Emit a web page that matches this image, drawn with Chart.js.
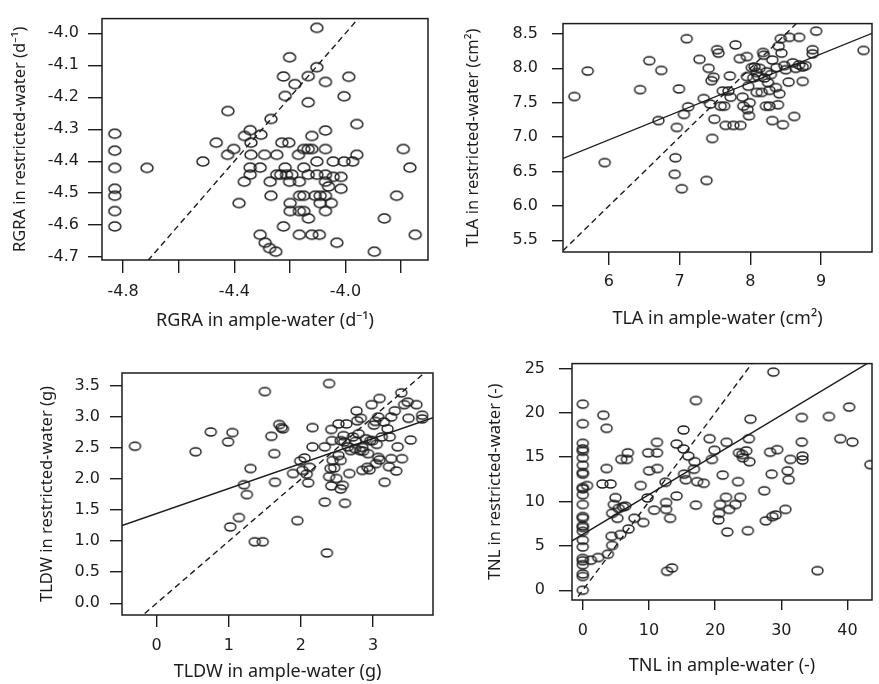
<!DOCTYPE html>
<html><head><meta charset="utf-8">
<script src="https://cdn.jsdelivr.net/npm/chart.js@4/dist/chart.umd.min.js"></script>
<style>
html,body{margin:0;padding:0;background:#fff;overflow:hidden;width:879px;height:684px;}
.p{position:absolute;}
canvas{display:block;}
</style></head><body>
<div class="p" style="left:0;top:0"><canvas id="c1" width="440" height="340"></canvas></div>
<div class="p" style="left:440px;top:0"><canvas id="c2" width="439" height="340"></canvas></div>
<div class="p" style="left:0;top:340px"><canvas id="c3" width="440" height="344"></canvas></div>
<div class="p" style="left:440px;top:340px"><canvas id="c4" width="439" height="344"></canvas></div>
<script>
// ---------- DATA ----------
const rgraAmple = [-4.83,-4.83,-4.83,-4.83,-4.83,-4.83,-4.83,-4.714,-4.513,-4.465,-4.423,-4.424,-4.402,-4.383,-4.364,-4.363,-4.343,-4.340,-4.340,-4.343,-4.343,-4.304,-4.307,-4.291,-4.307,-4.289,-4.273,-4.251,-4.268,-4.271,-4.268,-4.247,-4.247,-4.223,-4.217,-4.229,-4.204,-4.217,-4.233,-4.212,-4.193,-4.223,-4.201,-4.201,-4.199,-4.199,-4.182,-4.169,-4.166,-4.165,-4.166,-4.166,-4.150,-4.150,-4.150,-4.150,-4.134,-4.134,-4.134,-4.134,-4.133,-4.121,-4.121,-4.121,-4.103,-4.103,-4.103,-4.103,-4.109,-4.094,-4.091,-4.091,-4.072,-4.072,-4.072,-4.072,-4.072,-4.072,-4.072,-4.061,-4.051,-4.044,-4.044,-4.031,-4.016,-4.016,-4.005,-4.005,-3.988,-3.974,-3.959,-3.959,-3.896,-3.860,-3.816,-3.792,-3.768,-3.749];
const rgraRestricted = [-4.314,-4.367,-4.421,-4.486,-4.508,-4.556,-4.604,-4.421,-4.401,-4.342,-4.243,-4.380,-4.362,-4.531,-4.464,-4.321,-4.303,-4.342,-4.380,-4.420,-4.442,-4.317,-4.420,-4.380,-4.630,-4.655,-4.672,-4.683,-4.268,-4.464,-4.508,-4.380,-4.442,-4.135,-4.196,-4.342,-4.342,-4.420,-4.442,-4.442,-4.442,-4.604,-4.075,-4.464,-4.531,-4.556,-4.159,-4.380,-4.464,-4.508,-4.556,-4.630,-4.362,-4.420,-4.508,-4.556,-4.134,-4.216,-4.362,-4.442,-4.579,-4.321,-4.362,-4.630,-3.983,-4.106,-4.401,-4.442,-4.508,-4.630,-4.508,-4.531,-4.152,-4.304,-4.362,-4.442,-4.464,-4.508,-4.556,-4.479,-4.531,-4.401,-4.449,-4.655,-4.449,-4.486,-4.197,-4.401,-4.136,-4.401,-4.284,-4.380,-4.683,-4.579,-4.508,-4.362,-4.420,-4.630];
const rgraXTicks = [-4.8,-4.6,-4.4,-4.2,-4.0,-3.8];
const rgraXLabels = ['-4.8','','-4.4','','-4.0',''];
const rgraYTicks = [-4.7,-4.6,-4.5,-4.4,-4.3,-4.2,-4.1,-4.0];
const rgraYLabels = ['-4.7','-4.6','-4.5','-4.4','-4.3','-4.2','-4.1','-4.0'];

const tlaAmple = [5.51,5.70,5.94,6.44,6.57,6.70,6.74,6.99,6.96,6.94,6.93,7.03,7.10,7.06,7.12,7.28,7.34,7.41,7.43,7.38,7.45,7.48,7.46,7.49,7.53,7.55,7.58,7.63,7.61,7.69,7.71,7.72,7.65,7.76,7.86,7.79,7.85,7.95,7.89,7.90,7.96,7.98,7.99,7.97,7.95,8.02,8.06,8.09,8.04,8.11,8.13,8.09,8.16,8.18,8.19,8.20,8.23,8.25,8.27,8.22,8.27,8.31,8.31,8.29,8.36,8.39,8.41,8.40,8.43,8.44,8.46,8.37,8.48,8.50,8.54,8.55,8.60,8.62,8.64,8.69,8.69,8.74,8.78,8.74,8.88,8.88,8.93,9.60];
const tlaRestricted = [7.59,7.96,6.63,7.69,8.11,7.24,7.97,7.70,7.14,6.70,6.46,6.25,8.43,7.33,7.44,8.13,7.56,8.00,7.48,6.37,7.82,7.87,6.98,7.26,8.27,8.22,7.45,7.45,7.67,7.67,7.89,7.58,7.17,7.17,7.17,8.34,8.14,8.17,7.58,7.45,7.40,7.31,7.50,7.74,7.88,8.01,8.02,7.94,7.86,7.88,8.00,7.65,7.65,8.23,8.19,7.86,7.95,7.79,7.68,7.45,7.45,7.24,8.12,7.91,7.72,7.47,7.63,8.32,8.43,8.22,7.18,8.01,8.04,7.98,7.80,8.45,8.08,7.30,8.00,8.45,8.05,8.02,8.04,7.81,8.27,8.21,8.54,8.26];
const tlaXTicks = [6,7,8,9];
const tlaXLabels = ['6','7','8','9'];
const tlaYTicks = [5.5,6.0,6.5,7.0,7.5,8.0,8.5];
const tlaYLabels = ['5.5','6.0','6.5','7.0','7.5','8.0','8.5'];
const tlaFit = [0.416, 4.465]; // slope, intercept

const tldwAmple = [-0.30,0.54,0.75,0.99,1.05,1.02,1.14,1.21,1.25,1.30,1.36,1.47,1.50,1.59,1.63,1.64,1.70,1.73,1.75,1.89,1.95,1.99,2.02,2.05,2.08,2.10,2.12,2.16,2.16,2.33,2.33,2.36,2.39,2.39,2.41,2.42,2.42,2.43,2.44,2.46,2.49,2.52,2.52,2.55,2.55,2.55,2.58,2.59,2.60,2.61,2.63,2.65,2.67,2.69,2.72,2.75,2.76,2.77,2.78,2.80,2.82,2.83,2.85,2.85,2.86,2.90,2.92,2.93,2.95,2.96,2.98,2.99,3.01,3.03,3.04,3.05,3.07,3.07,3.09,3.09,3.12,3.15,3.16,3.20,3.22,3.23,3.25,3.25,3.30,3.32,3.34,3.39,3.40,3.43,3.48,3.49,3.52,3.60,3.68,3.68];
const tldwRestricted = [2.53,2.44,2.76,2.60,2.75,1.23,1.38,1.91,1.75,2.17,0.99,0.99,3.41,2.69,2.41,1.95,2.88,2.83,2.81,2.09,1.33,2.29,2.14,2.34,2.08,1.94,2.19,2.83,2.52,2.52,1.63,0.81,3.54,2.04,2.17,1.89,2.80,2.62,2.30,2.18,2.01,2.89,2.38,2.62,1.84,2.30,1.90,2.70,2.60,1.61,2.89,2.52,2.09,2.46,2.68,2.49,2.61,3.10,2.94,2.73,2.46,2.98,2.51,2.14,2.45,2.65,2.19,2.41,2.15,2.62,3.20,2.62,2.87,2.93,2.25,2.56,3.00,2.35,3.30,2.31,2.68,2.92,1.95,2.81,2.20,2.68,3.00,2.33,3.10,2.13,2.52,3.39,2.33,3.20,3.24,2.98,2.63,3.20,3.03,2.97];
const tldwXTicks = [0,1,2,3];
const tldwXLabels = ['0','1','2','3'];
const tldwYTicks = [0,0.5,1.0,1.5,2.0,2.5,3.0,3.5];
const tldwYLabels = ['0.0','0.5','1.0','1.5','2.0','2.5','3.0','3.5'];
const tldwFit = [0.403, 1.445];

const tnlAmple = [0,0,0,0,0,0,0,0,0,0,0,0,0,0,0,0,0,0,0,0,0,0,0,0,0,0,0.64,1.23,2.32,3.11,3.60,2.96,4.20,3.60,3.80,4.44,4.35,4.44,4.94,4.69,5.23,5.43,5.68,6.07,5.83,6.67,6.81,6.42,6.91,7.80,8.74,9.14,9.88,10.02,9.78,10.77,11.21,11.21,11.26,12.49,12.59,12.59,12.74,13.19,13.48,14.17,14.17,15.21,15.21,15.31,15.56,15.95,16.89,16.79,17.09,17.09,17.28,18.27,19.16,19.51,19.90,20.49,20.59,20.74,21.14,21.63,21.73,21.83,22.12,23.06,23.46,23.60,23.80,24.10,24.20,24.69,24.94,25.09,25.19,25.33,27.41,27.65,28.30,28.64,28.54,28.79,29.14,29.38,30.62,30.96,31.11,31.36,33.09,33.09,33.19,33.19,35.46,37.19,38.91,40.25,40.74,43.46];
const tnlRestricted = [20.98,18.77,16.56,15.93,15.67,14.93,14.09,13.27,13.09,11.58,11.43,10.77,9.66,8.30,8.11,7.26,7.08,6.64,5.64,4.87,3.58,3.32,2.88,1.84,1.55,0,11.80,3.39,3.69,19.73,18.25,11.98,11.98,13.72,4.06,5.05,6.08,8.67,10.44,9.66,8.11,9.22,6.27,9.40,14.75,14.75,15.49,9.48,6.90,8.11,11.80,7.63,15.49,13.46,10.40,9.03,15.49,16.67,13.72,12.17,9.88,9.11,2.14,8.11,2.51,16.48,10.62,18.07,15.93,13.09,12.46,15.12,14.49,13.64,21.39,9.59,12.24,12.06,17.08,14.75,15.78,7.93,8.67,9.66,12.98,10.47,16.67,6.56,9.11,9.66,12.24,15.49,10.47,15.30,14.93,15.71,6.71,17.08,14.49,19.29,11.21,7.82,15.56,8.30,13.09,24.59,8.48,15.85,9.11,13.46,12.46,14.75,19.47,16.70,15.12,14.68,2.21,19.58,17.08,20.65,16.70,14.16];
const tnlXTicks = [0,10,20,30,40];
const tnlXLabels = ['0','10','20','30','40'];
const tnlYTicks = [0,5,10,15,20,25];
const tnlYLabels = ['0','5','10','15','20','25'];
const tnlFit = [0.448, 6.305];

// ---------- RENDER ----------
const INK = '#1c1c1c';
const TICK_FONT = {family:'"DejaVu Sans", "Liberation Sans", sans-serif', size:16};
const TITLE_FAMILY = '"Noto Sans", "DejaVu Sans", sans-serif';

function marker(w,h){
  const c=document.createElement('canvas'); c.width=w+4; c.height=h+4;
  const g=c.getContext('2d'); g.strokeStyle=INK; g.lineWidth=1.4;
  g.beginPath(); g.ellipse((w+4)/2,(h+4)/2,w/2,h/2,0,0,Math.PI*2); g.stroke();
  return c;
}
const boxPlugin = {
  id:'box',
  afterDraw(chart){
    const a=chart.chartArea, ctx=chart.ctx;
    ctx.save(); ctx.strokeStyle=INK; ctx.lineWidth=1.5;
    ctx.strokeRect(a.left, a.top, a.right-a.left, a.bottom-a.top);
    ctx.restore();
  }
};

function makeChart(id, cfg){
  const mk = marker(cfg.mw, cfg.mh);
  const pts = cfg.xs.map((x,i)=>({x:x, y:cfg.ys[i]}));
  const datasets = [{
    type:'scatter', data:pts, showLine:false, pointStyle:mk, pointRadius:6,
    borderColor:INK, backgroundColor:'transparent'
  },{
    type:'line', data:[{x:cfg.x[0],y:cfg.x[0]},{x:cfg.x[1],y:cfg.x[1]}],
    borderColor:INK, borderWidth:1.4, borderDash:[6,4], pointRadius:0, fill:false
  }];
  if (cfg.fit){
    const f=cfg.fit;
    datasets.push({type:'line', data:[{x:cfg.x[0],y:f[0]*cfg.x[0]+f[1]},{x:cfg.x[1],y:f[0]*cfg.x[1]+f[1]}],
      borderColor:INK, borderWidth:1.4, pointRadius:0, fill:false});
  }
  const L = cfg.lay;
  return new Chart(document.getElementById(id), {
    type:'scatter',
    data:{datasets},
    plugins:[boxPlugin],
    options:{
      responsive:false, animation:false, devicePixelRatio:1,
      layout:{padding:{left:0, top:L.top, right:L.right, bottom:0}},
      plugins:{legend:{display:false}, tooltip:{enabled:false}},
      scales:{
        x:{
          type:'linear', min:cfg.x[0], max:cfg.x[1],
          border:{display:false},
          grid:{display:true, drawOnChartArea:false, drawTicks:true, tickLength:L.xtl, color:INK, lineWidth:1.4},
          afterBuildTicks:s=>{s.ticks=cfg.xt.map(v=>({value:v}));},
          afterFit:s=>{s.height=L.xh;},
          ticks:{autoSkip:false, maxRotation:0, padding:L.xtp, color:INK, font:TICK_FONT,
                 callback:(v,i)=>cfg.xl[i]},
          title:{display:true, text:cfg.xtitle, color:INK, font:{family:TITLE_FAMILY, size:18},
                 padding:{top:0,bottom:L.xtb}}
        },
        y:{
          type:'linear', min:cfg.y[0], max:cfg.y[1],
          border:{display:false},
          grid:{display:true, drawOnChartArea:false, drawTicks:true, tickLength:L.ytl, color:INK, lineWidth:1.4},
          afterBuildTicks:s=>{s.ticks=cfg.yt.map(v=>({value:v}));},
          afterFit:s=>{s.width=L.yw;},
          ticks:{autoSkip:false, padding:L.ytp, color:INK, font:TICK_FONT,
                 callback:(v,i)=>cfg.yl[i]},
          title:{display:true, text:cfg.ytitle, color:INK, font:{family:TITLE_FAMILY, size:16.5},
                 padding:{top:L.ytt,bottom:0}}
        }
      }
    }
  });
}

makeChart('c1',{xs:rgraAmple, ys:rgraRestricted, x:[-4.876,-3.703], y:[-4.709,-3.954],
  xt:rgraXTicks, xl:rgraXLabels, yt:rgraYTicks, yl:rgraYLabels, mw:12, mh:9,
  xtitle:'RGRA in ample-water (d\u207B\u00B9)', ytitle:'RGRA in restricted-water (d\u207B\u00B9)',
  lay:{top:13, right:12, xh:80, yw:102, xtl:13, xtp:9, xtb:8, ytl:14, ytp:9, ytt:10}});

makeChart('c2',{xs:tlaAmple, ys:tlaRestricted, x:[5.35,9.72], y:[5.33,8.65], fit:tlaFit,
  xt:tlaXTicks, xl:tlaXLabels, yt:tlaYTicks, yl:tlaYLabels, mw:11, mh:8,
  xtitle:'TLA in ample-water (cm\u00B2)', ytitle:'TLA in restricted-water (cm\u00B2)',
  lay:{top:13, right:1, xh:88, yw:123, xtl:13, xtp:7, xtb:10, ytl:11, ytp:14, ytt:23}});

makeChart('c3',{xs:tldwAmple, ys:tldwRestricted, x:[-0.48,3.83], y:[-0.19,3.71], fit:tldwFit,
  xt:tldwXTicks, xl:tldwXLabels, yt:tldwYTicks, yl:tldwYLabels, mw:11, mh:8,
  xtitle:'TLDW in ample-water (g)', ytitle:'TLDW in restricted-water (g)',
  lay:{top:33, right:2, xh:69, yw:122, xtl:12, xtp:9, xtb:1, ytl:12, ytp:10, ytt:37}});

makeChart('c4',{xs:tnlAmple, ys:tnlRestricted, x:[-1.63,43.7], y:[-1.1,25.55], fit:tnlFit,
  xt:tnlXTicks, xl:tnlXLabels, yt:tnlYTicks, yl:tnlYLabels, mw:11, mh:8,
  xtitle:'TNL in ample-water (-)', ytitle:'TNL in restricted-water (-)',
  lay:{top:19, right:1, xh:84, yw:132, xtl:10, xtp:11, xtb:7, ytl:13, ytp:14, ytt:45}});
</script>
</body></html>
